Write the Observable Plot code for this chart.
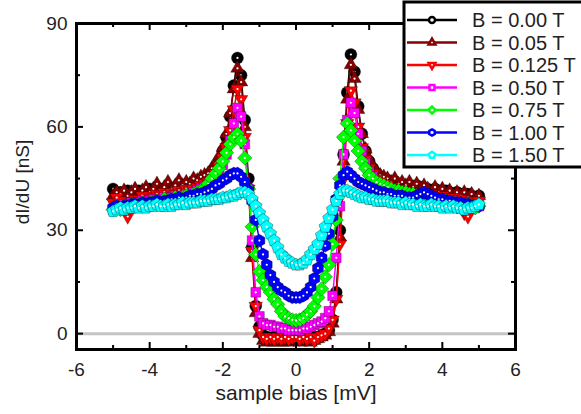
<!DOCTYPE html>
<html><head><meta charset="utf-8">
<script src="https://cdn.jsdelivr.net/npm/d3@7"></script>
<script src="https://cdn.jsdelivr.net/npm/@observablehq/plot@0.6"></script>
<style>body{margin:0;background:#fff}</style>
</head><body><div id="chart"></div>
<script>
// sample bias [mV]
const bias = [-5.0,-4.9,-4.8,-4.7,-4.6,-4.5,-4.4,-4.3,-4.2,-4.1,-4.0,-3.9,-3.8,-3.7,-3.6,-3.5,-3.4,-3.3,-3.2,-3.1,-3.0,-2.9,-2.8,-2.7,-2.6,-2.5,
  -2.4,-2.3,-2.2,-2.1,-2.0,-1.9,-1.8,-1.7,-1.6,-1.5,-1.4,-1.3,-1.2,-1.1,
  -1.0,-0.9,-0.8,-0.7,-0.6,-0.5,-0.4,-0.3,-0.2,-0.1,0.0,0.1,0.2,0.3,0.4,0.5,0.6,0.7,0.8,0.9,1.0,
  1.1,1.2,1.3,1.4,1.5,1.6,1.7,1.8,1.9,2.0,2.1,2.2,2.3,2.4,
  2.5,2.6,2.7,2.8,2.9,3.0,3.1,3.2,3.3,3.4,3.5,3.6,3.7,3.8,3.9,4.0,4.1,4.2,4.3,4.4,4.5,4.6,4.7,4.8,4.9,5.0];

// dI/dU [nS] for each field
const b000 = [42,40.5,41,40,41.5,40.5,41,41.5,40.5,41,42,41,41.5,42,41,42,41.5,42,42.5,42,43,42.5,43,43.5,44,44.5,
  45.5,46.5,48,50,53,57,63,72,80,75,62,45,25,8,
  2,-0.5,-1,-1.5,-1,-1.5,-1,-1.5,-1,-1,-1.5,-1,-1.5,-1,-1.5,-1,-1,-0.5,0,1,4,
  12,30,52,70,81,76,66,58,53,50,48,46.5,45.5,45,
  44.5,44,43.5,43.5,43,43,42.5,42.5,43,42.5,42,42,41.5,42,41.5,41,41.5,41,40.5,41,40.5,40,40.5,40,39.5,40];
const b005 = [40,41,40.5,41.5,40,41,42,40.5,41.5,42.5,41,42,43.5,41.5,42.5,44,42,43,44.5,43,44,43.5,45,44.5,45.5,46,
  46.5,48,49.5,51.5,54,58,64,71,77,73,60,43,22,6,
  0,-2,-2.5,-2,-2.5,-2,-2.5,-2,-2.5,-2,-2,-2.5,-2,-2,-2.5,-2,-1.5,-1,-0.5,0.5,3,
  10,28,50,68,78,74,65,58,53.5,50.5,48.5,47,46,45.5,
  45,44,45,43.5,44,43,44,42.5,43.5,42,43,42,41,42.5,41,42,40.5,41.5,40,41,40,41,39.5,40.5,39,40];
const b0125 = [38,39.5,38.5,37,34,38,39,38.5,40,39,40,39.5,40.5,40,41,40.5,41,40.5,41.5,41,42,41.5,42,42.5,43,43.5,
  44,45,46.5,48.5,51,54,59,65,71,68,57,42,24,8,
  1,-1,-1.5,-1,-1.5,-1,-1.5,-1,-1.5,-1,-1,-1.5,-1,-1.5,-1,-2,-1,-0.5,0,1.5,4,
  10,26,45,61,70.5,67,60,54,50.5,48,46.5,45,44,43.5,
  43,42.5,42,42,41.5,41.5,41,41,40.5,41,40.5,40,40.5,40,39.5,40,39.5,39,39.5,37,39,35,34,38.5,38,38.5];
const b050 = [36,37,36.5,37.5,37,38,37.5,38,38.5,38,38.5,39,38.5,39,39.5,39,39.5,40,39.5,40,40.5,40.5,41,41.5,42,42.5,
  43,44,45.5,47,49,52,56,61,65.5,63,55,42,27,12,
  5,3,2.5,2.5,2,2,1.5,1.5,1,1,1,1,1.5,1.5,2,2.5,3,3.5,4.5,6.5,11,
  22,37,52,62,67,64,58,53,49.5,47,45.5,44,43,42.5,
  42,41.5,41,41,40.5,40.5,40,40,39.5,40,39.5,39,39.5,39,38.5,39,38.5,38,38.5,38,37.5,38,37.5,37,37.5,37];
const b075 = [36,37,36,37,36.5,37.5,37,37.5,38,37.5,38,38,38.5,38,39,38.5,39,39.5,39,39.5,40,40,40.5,41,41.5,42,
  43.5,45,46.5,48,50,52.5,55,57,58,56,51,42,31,23,
  18,15.5,13.5,12,10,8.5,6.5,5,4.5,4,3.8,4,4.5,5.5,6.5,8,10.5,13,16.5,20,26,
  33,45,57,61,59,56,53,50,48,46,45,44,43.5,43,
  42.5,42,41.5,41.5,41,41,40.5,40.5,40,40,39.5,39.5,39,39,38.5,38.5,38.5,38,38,37.5,37.5,37,37.5,37,36.5,37];
const b100 = [36.5,37,36.5,37,37,37.5,37.5,37,38,37.5,38,38,38.5,38,38.5,38.5,39,39,39.5,39,39.5,40,40,40.5,40.5,41,
  41.5,42,43,43.5,44.5,45,46,46.5,46.5,45.5,44,41.5,38.5,33,
  27,23,20,17,15,13.5,12.5,12,11,10.5,10.5,10.5,11,12,13.5,16,19,22,25.5,29,34,
  39,43,46,47,46,45,44,43.5,43,42.5,42,41.5,41,41,
  40.5,40.5,40,40,40,39.5,39.5,39.5,40,40.5,41,40.5,40,39.5,39,39,38.5,38.5,38,38,38,37.5,37.5,37,37,37];
const b150 = [35.5,36,36.5,36,36.5,36.5,37,36.5,37,36.5,37,37,37.5,37,37,37.5,37,37.5,37.5,38,37.5,38,38,38,38.5,38.5,
  38.5,39,39,39,39.5,39.5,40,40,40.5,41,41,40.5,39,37,
  35,33,31,29,27,25,23,22,21,20.5,20,20,20.5,21.5,23,24.5,26,28.5,31,33.5,36,
  38.5,40.5,41.5,41.5,41,40.5,40,39.5,39.5,39,39,38.5,38.5,38.5,
  38.5,38,38,38,37.5,38,37.5,37.5,37,37.5,37,37,37.5,37,37,36.5,37,36.5,37,36.5,36.5,36,36.5,36.5,37,37.5];

const seriesValues = [b000, b005, b0125, b050, b075, b100, b150];
const seriesNames = ["B = 0.00 T", "B = 0.05 T", "B = 0.125 T", "B = 0.50 T", "B = 0.75 T", "B = 1.00 T", "B = 1.50 T"];
const seriesColors = ["#000000", "#880000", "#ff0000", "#ff00ff", "#00ff00", "#0000ff", "#00ffff"];

const xTicks = [-6, -4, -2, 0, 2, 4, 6];
const xMinor = [-5, -3, -1, 1, 3, 5];
const yTicks = [0, 30, 60, 90];
const yMinor = [15, 45, 75];
const xLabel = "sample bias [mV]";
const yLabel = "dI/dU [nS]";

// marker shapes
function poly(n, rot, k) {
  return {draw(ctx, size) {
    const r = Math.sqrt(size / Math.PI) * k;
    for (let i = 0; i < n; i++) {
      const a = rot + 2 * Math.PI * i / n;
      const px = r * Math.cos(a), py = r * Math.sin(a);
      if (i) ctx.lineTo(px, py); else ctx.moveTo(px, py);
    }
    ctx.closePath();
  }};
}
const circleSym = {draw(ctx, size) { const r = Math.sqrt(size / Math.PI); ctx.moveTo(r, 0); ctx.arc(0, 0, r, 0, 2 * Math.PI); }};
const seriesSymbols = [
  circleSym,
  poly(3, -Math.PI / 2, 1.3),
  poly(3, Math.PI / 2, 1.3),
  poly(4, Math.PI / 4, 1.15),
  poly(4, 0, 1.2),
  poly(6, -Math.PI / 2, 1.05),
  poly(5, -Math.PI / 2, 1.1)
];

const FONT = "'Liberation Sans', Arial, sans-serif";
const W = 581, H = 414, mL = 76, mR = 66, mT = 23, mB = 65;
const fH = H - mT - mB, fW = W - mL - mR;

const marks = [Plot.ruleY([0], {stroke: "#c4c4c4", strokeWidth: 3})];
seriesValues.forEach((vals, k) => {
  marks.push(Plot.line(vals, {x: bias, y: vals, stroke: seriesColors[k], strokeWidth: 1.5}));
  marks.push(Plot.dot(vals, {x: bias, y: vals, symbol: seriesSymbols[k], r: 6, fill: seriesColors[k], stroke: "#000", strokeOpacity: 0.45, strokeWidth: 0.7}));
  marks.push(Plot.dot(vals, {x: bias, y: vals, r: 1.1, fill: "white", stroke: "none"}));
});
const tickStyle = {stroke: "#000", strokeWidth: 2};
marks.push(
  Plot.ruleX(xTicks, {...tickStyle, insetTop: fH - 7}),
  Plot.ruleX(xTicks, {...tickStyle, insetBottom: fH - 7}),
  Plot.ruleX(xMinor, {...tickStyle, insetTop: fH - 4}),
  Plot.ruleX(xMinor, {...tickStyle, insetBottom: fH - 4}),
  Plot.ruleY(yTicks, {...tickStyle, insetRight: fW - 7}),
  Plot.ruleY(yTicks, {...tickStyle, insetLeft: fW - 7}),
  Plot.ruleY(yMinor, {...tickStyle, insetRight: fW - 4}),
  Plot.ruleY(yMinor, {...tickStyle, insetLeft: fW - 4}),
  Plot.frame({stroke: "#000", strokeWidth: 3}),
  Plot.axisX(xTicks, {tickSize: 0, tickPadding: 13, fontSize: 19, fill: "#222", tickFormat: d => String(d)}),
  Plot.axisY(yTicks, {tickSize: 0, tickPadding: 9, fontSize: 19, fill: "#222", tickFormat: d => String(d)})
);

const chart = Plot.plot({
  width: W, height: H,
  marginLeft: mL, marginRight: mR, marginTop: mT, marginBottom: mB,
  x: {domain: [-6, 6], label: null},
  y: {domain: [-4.6, 90], label: null},
  style: {fontFamily: FONT, fontSize: "19px", background: "white", color: "#222"},
  marks
});
document.getElementById("chart").appendChild(chart);

const svg = d3.select(chart);
// axis titles
svg.append("text").attr("x", 296).attr("y", 400).attr("text-anchor", "middle")
  .attr("font-family", FONT).attr("font-size", 21).attr("fill", "#222").text(xLabel);
svg.append("text").attr("transform", "translate(22,182) rotate(-90)").attr("text-anchor", "middle").attr("dy", "0.35em")
  .attr("font-family", FONT).attr("font-size", 19).attr("fill", "#222").text(yLabel);

// legend box
const lg = svg.append("g");
lg.append("rect").attr("x", 404).attr("y", 2).attr("width", 185).attr("height", 165)
  .attr("fill", "white").attr("stroke", "#000").attr("stroke-width", 3);
seriesNames.forEach((name, k) => {
  const cy = 20 + k * 22.5;
  lg.append("line").attr("x1", 407).attr("x2", 457).attr("y1", cy).attr("y2", cy)
    .attr("stroke", seriesColors[k]).attr("stroke-width", 2.5);
  lg.append("path").attr("d", d3.symbol(seriesSymbols[k], Math.PI * 9)())
    .attr("transform", `translate(432,${cy})`)
    .attr("fill", "white").attr("stroke", seriesColors[k]).attr("stroke-width", 2.5);
  lg.append("text").attr("x", 472).attr("y", cy).attr("dy", "0.35em").attr("text-anchor", "start")
    .attr("font-size", 20).attr("fill", "#222")
    .attr("font-family", FONT).text(name);
});
</script>
</body></html>
